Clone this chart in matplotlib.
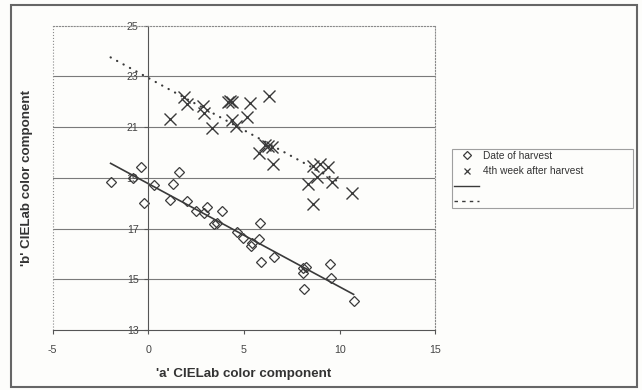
import numpy as np
import matplotlib
matplotlib.use('Agg')
import matplotlib.pyplot as plt
from matplotlib.lines import Line2D
from matplotlib.patches import Rectangle

# 'Date of harvest' (a, b)
harvest_a = [-1.97, -0.78, -0.40, -0.23, 0.31, 1.13, 1.31, 1.62, 2.04, 2.49,
             2.91, 3.08, 3.43, 3.57, 3.87, 4.62, 4.93, 5.37, 5.40, 5.80,
             5.84, 5.87, 6.57, 8.07, 8.24, 8.07, 8.12, 9.49, 9.53, 10.73]
harvest_b = [18.85, 19.01, 19.44, 18.02, 18.72, 18.13, 18.74, 19.23, 18.10, 17.69,
             17.60, 17.84, 17.16, 17.21, 17.68, 16.85, 16.64, 16.33, 16.42, 16.59,
             17.23, 15.67, 15.89, 15.46, 15.50, 15.26, 14.62, 15.59, 15.04, 14.15]

# '4th week after harvest' (a, b)
week4_a = [1.13, 1.88, 2.00, 2.84, 2.91, 3.31, 4.18, 4.27, 4.35, 4.36,
           4.58, 5.31, 5.14, 6.32, 6.10, 6.27, 5.80, 6.50, 6.45, 8.62,
           8.97, 9.41, 8.36, 8.80, 9.58, 8.59, 10.63]
week4_b = [21.32, 22.20, 21.91, 21.83, 21.54, 20.98, 22.00, 22.05, 21.98, 21.28,
           21.05, 21.94, 21.41, 22.24, 20.30, 20.26, 19.97, 19.53, 20.23, 19.45,
           19.56, 19.44, 18.76, 19.05, 18.85, 17.97, 18.42]

# trend lines (slope, intercept, x range)
harvest_trend = (-0.407, 18.77)
harvest_range = [-1.97, 10.73]
week4_trend = (-0.412, 22.94)
week4_range = [-1.97, 10.0]

xticks = [-5, 0, 5, 10, 15]
yticks = [13, 15, 17, 19, 21, 23, 25]

ink = '#3a3a3a'
bg = '#fdfdfb'
plt.rcParams['font.family'] = ['Liberation Sans', 'DejaVu Sans']
plt.rcParams['axes.unicode_minus'] = False

fig = plt.figure(figsize=(6.42, 3.9), dpi=100, facecolor=bg)
ax = fig.add_axes([0.082, 0.154, 0.596, 0.780], facecolor=bg)

ax.plot(harvest_a, harvest_b, 'D', ms=5, mfc='none', mec=ink, mew=0.9)
ax.plot(week4_a, week4_b, 'x', ms=8, mec=ink, mew=1.0)

hx = np.array(harvest_range)
ax.plot(hx, harvest_trend[0] * hx + harvest_trend[1], color=ink, lw=1.2)
wx = np.array(week4_range)
ax.plot(wx, week4_trend[0] * wx + week4_trend[1], color=ink, lw=1.6,
        linestyle=(0, (0.1, 3.2)), dash_capstyle='round')

ax.set_xlim(-5, 15)
ax.set_ylim(13, 25)
ax.set_xticks(xticks)
ax.set_yticks(yticks)

# y axis crosses at a = 0
ax.spines['left'].set_position(('data', 0))
ax.spines['left'].set_color('#555555')
ax.spines['bottom'].set_color('#555555')
for s in ['top', 'right']:
    ax.spines[s].set_linestyle(':')
    ax.spines[s].set_color('#8a8a8a')
    ax.spines[s].set_linewidth(0.8)
ax.plot([0, 0], [0, 1], transform=ax.transAxes, ls=':', color='#8a8a8a', lw=0.8,
        clip_on=False)

ax.tick_params(axis='both', direction='out', length=3, width=0.8, color='#555555',
               labelsize=7.7, labelcolor='#444444')
ax.tick_params(axis='x', pad=8)
ax.tick_params(axis='y', pad=4)

ax.yaxis.grid(True, color='#7a7a7a', lw=0.8)
gl = ax.yaxis.get_gridlines()
gl[0].set_visible(False)
gl[-1].set_visible(False)

ax.set_xlabel("'a' CIELab color component", fontsize=9.6, fontweight='bold',
              color='#333333', labelpad=9)
ax.set_ylabel("'b' CIELab color component", fontsize=9.6, fontweight='bold',
              color='#333333')
ax.yaxis.set_label_coords(-0.05, 0.5, transform=None)
ax.yaxis.label.set_transform(fig.transFigure)
ax.yaxis.label.set_position((33 / 642, 1 - 178 / 390))

handles = [Line2D([], [], marker='D', ms=4, mfc='none', mec=ink, mew=0.9, ls='none'),
           Line2D([], [], marker='x', ms=5, mec=ink, mew=0.9, ls='none'),
           Line2D([], [], color=ink, lw=1.0),
           Line2D([], [], color=ink, lw=1.0, ls=(0, (2.5, 3)))]
labels = ['Date of harvest', '4th week after harvest', ' ', ' ']
leg = fig.legend(handles, labels, loc='upper left',
                 bbox_to_anchor=(452 / 642, 1 - 208 / 390, 181 / 642, 59 / 390),
                 mode='expand', fontsize=7.3, frameon=True, fancybox=False,
                 edgecolor='#888888', facecolor=bg, borderpad=0.2,
                 labelspacing=0.5, handlelength=2.5, handletextpad=0.4,
                 borderaxespad=0)
leg.get_frame().set_linewidth(0.8)
for t in leg.get_texts():
    t.set_color('#333333')

# outer chart frame
fig.patches.append(Rectangle((11 / 642, 1 - 386.5 / 390), (636.7 - 11) / 642,
                             (386.5 - 5) / 390, transform=fig.transFigure,
                             fill=False, edgecolor='#666666', lw=1.5))

fig.savefig('out.png', dpi=100, facecolor=bg)
